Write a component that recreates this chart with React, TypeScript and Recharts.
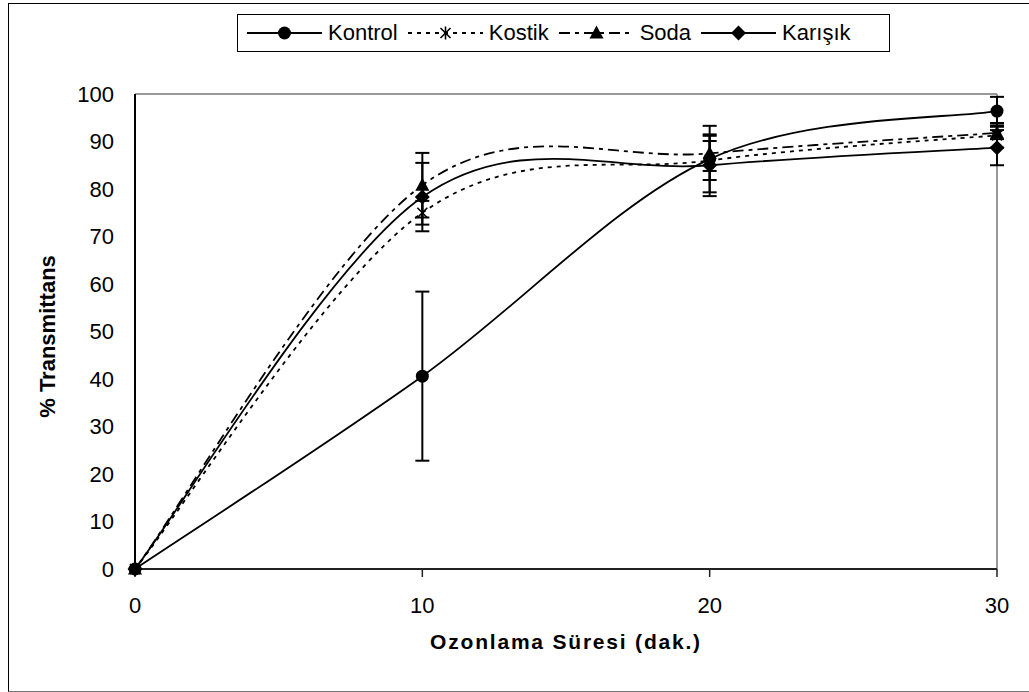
import React from "react";
import { LineChart, Line, XAxis, YAxis, Legend, ErrorBar, ReferenceLine } from "recharts";

const FONT = '"Liberation Sans", Arial, sans-serif';

const minutes = [0, 10, 20, 30];
const kontrol = [0, 40.6, 86.3, 96.4];
const kontrolErr = [0, 17.8, 7.0, 3.0];
const kostik = [0, 75.0, 86.0, 91.3];
const kostikErr = [0, 2.5, 4.1, 2.6];
const soda = [0, 80.8, 87.5, 91.8];
const sodaErr = [0, 6.8, 3.7, 1.3];
const karisik = [0, 78.3, 85.0, 88.7];
const karisikErr = [0, 7.2, 6.5, 3.7];

const xTicks = [0, 10, 20, 30];
const yTicks = [0, 10, 20, 30, 40, 50, 60, 70, 80, 90, 100];

const data = minutes.map((m, i) => ({
  m,
  kontrol: kontrol[i],
  kontrolErr: kontrolErr[i],
  kostik: kostik[i],
  kostikErr: kostikErr[i],
  soda: soda[i],
  sodaErr: sodaErr[i],
  karisik: karisik[i],
  karisikErr: karisikErr[i],
}));

type MarkerKind = "circle" | "star" | "triangle" | "diamond";

const SERIES: { key: string; name: string; marker: MarkerKind; dash?: string }[] = [
  { key: "kontrol", name: "Kontrol", marker: "circle" },
  { key: "kostik", name: "Kostik", marker: "star", dash: "4 5" },
  { key: "soda", name: "Soda", marker: "triangle", dash: "11 5 4 5" },
  { key: "karisik", name: "Karışık", marker: "diamond" },
];

// Excel-style smoothed line (bezier with 1/6 tangents)
function excelSmooth(context: any) {
  let pts: [number, number][] = [];
  return {
    areaStart() {},
    areaEnd() {},
    lineStart() {
      pts = [];
    },
    point(x: number, y: number) {
      pts.push([+x, +y]);
    },
    lineEnd() {
      const n = pts.length;
      if (!n) return;
      context.moveTo(pts[0][0], pts[0][1]);
      for (let i = 0; i < n - 1; i++) {
        const p0 = pts[Math.max(i - 1, 0)];
        const p1 = pts[i];
        const p2 = pts[i + 1];
        const p3 = pts[Math.min(i + 2, n - 1)];
        context.bezierCurveTo(
          p1[0] + (p2[0] - p0[0]) / 6,
          p1[1] + (p2[1] - p0[1]) / 6,
          p2[0] - (p3[0] - p1[0]) / 6,
          p2[1] - (p3[1] - p1[1]) / 6,
          p2[0],
          p2[1]
        );
      }
    },
  };
}

function Marker({ kind, cx, cy }: { kind: MarkerKind; cx: number; cy: number }) {
  if (cx == null || cy == null) return null;
  if (kind === "circle") return <circle cx={cx} cy={cy} r={6.5} fill="#000" />;
  if (kind === "triangle")
    return <polygon points={`${cx},${cy - 7.5} ${cx - 7},${cy + 5.5} ${cx + 7},${cy + 5.5}`} fill="#000" />;
  if (kind === "diamond")
    return <polygon points={`${cx},${cy - 7.5} ${cx + 7.5},${cy} ${cx},${cy + 7.5} ${cx - 7.5},${cy}`} fill="#000" />;
  return (
    <g stroke="#000" strokeWidth={1.6}>
      <line x1={cx - 5} y1={cy - 5} x2={cx + 5} y2={cy + 5} />
      <line x1={cx - 5} y1={cy + 5} x2={cx + 5} y2={cy - 5} />
      <line x1={cx} y1={cy - 6.5} x2={cx} y2={cy + 6.5} />
    </g>
  );
}

function renderLegend() {
  return (
    <div
      style={{
        boxSizing: "border-box",
        width: 653,
        height: 38,
        border: "1px solid #000",
        background: "#fff",
        display: "flex",
        alignItems: "center",
        paddingLeft: 9,
        fontFamily: FONT,
        fontSize: 22,
        color: "#000",
        whiteSpace: "nowrap",
      }}
    >
      {SERIES.map((s) => (
        <div key={s.key} style={{ display: "flex", alignItems: "center", marginRight: 10 }}>
          <svg width={75} height={20} style={{ display: "block" }}>
            <line x1={0} y1={10} x2={75} y2={10} stroke="#000" strokeWidth={1.8} strokeDasharray={s.dash} />
            <Marker kind={s.marker} cx={37.5} cy={10} />
          </svg>
          <span style={{ marginLeft: 6 }}>{s.name}</span>
        </div>
      ))}
    </div>
  );
}

const tickStyle = { fill: "#000", fontSize: 22, fontFamily: FONT };

export default function App() {
  return (
    <div style={{ position: "fixed", left: 0, top: 0, width: 1029, height: 692, overflow: "hidden", background: "#fff" }}>
      <div
        style={{
          position: "absolute",
          left: 8,
          top: 3,
          width: 1040,
          height: 687,
          borderLeft: "1px solid #000",
          borderTop: "1px solid #000",
          borderBottom: "1px solid #777",
        }}
      >
        <LineChart width={1013} height={685} data={data} margin={{ top: 90, right: 25, bottom: 0, left: 0 }}>
          <XAxis
            dataKey="m"
            type="number"
            domain={[0, 30]}
            ticks={xTicks}
            height={120}
            tick={tickStyle}
            tickSize={8}
            tickMargin={20}
            axisLine={{ stroke: "#222", strokeWidth: 2 }}
            tickLine={{ stroke: "#222", strokeWidth: 1.5 }}
            label={{
              content: (p: any) => {
                const vb = p.viewBox || { x: 126, y: 565, width: 862, height: 120 };
                return (
                  <text
                    x={vb.x + vb.width / 2}
                    y={vb.y + 72}
                    textAnchor="middle"
                    dominantBaseline="central"
                    style={{ fontFamily: FONT, fontSize: 21, fontWeight: "bold", letterSpacing: 1.8 }}
                    fill="#000"
                  >
                    Ozonlama Süresi (dak.)
                  </text>
                );
              },
            }}
          />
          <YAxis
            type="number"
            domain={[0, 100]}
            ticks={yTicks}
            width={126}
            tick={tickStyle}
            tickLine={false}
            tickSize={6}
            tickMargin={15}
            axisLine={{ stroke: "#000", strokeWidth: 2 }}
            label={{
              content: (p: any) => {
                const vb = p.viewBox || { x: 0, y: 90, width: 126, height: 475 };
                const cx = vb.x + 38;
                const cy = vb.y + vb.height / 2 + 5;
                return (
                  <text
                    x={cx}
                    y={cy}
                    transform={`rotate(-90 ${cx} ${cy})`}
                    textAnchor="middle"
                    dominantBaseline="central"
                    style={{ fontFamily: FONT, fontSize: 22, fontWeight: "bold" }}
                    fill="#000"
                  >
                    % Transmittans
                  </text>
                );
              },
            }}
          />
          <ReferenceLine y={100} stroke="#999" strokeWidth={2} />
          <ReferenceLine x={30} stroke="#999" strokeWidth={2} />
          <Legend
            layout="horizontal"
            verticalAlign="middle"
            align="center"
            content={renderLegend}
            wrapperStyle={{ position: "absolute", left: 228, top: 10, width: 653, height: 38 }}
          />
          {SERIES.map((s) => (
            <Line
              key={s.key}
              dataKey={s.key}
              name={s.name}
              type={excelSmooth as any}
              stroke="#000"
              strokeWidth={1.8}
              strokeDasharray={s.dash}
              isAnimationActive={false}
              dot={(p: any) => <Marker key={`${s.key}-${p.index}`} kind={s.marker} cx={p.cx} cy={p.cy} />}
              activeDot={false}
            >
              <ErrorBar dataKey={`${s.key}Err`} width={7} stroke="#000" strokeWidth={2} direction="y" />
            </Line>
          ))}
        </LineChart>
      </div>
    </div>
  );
}
